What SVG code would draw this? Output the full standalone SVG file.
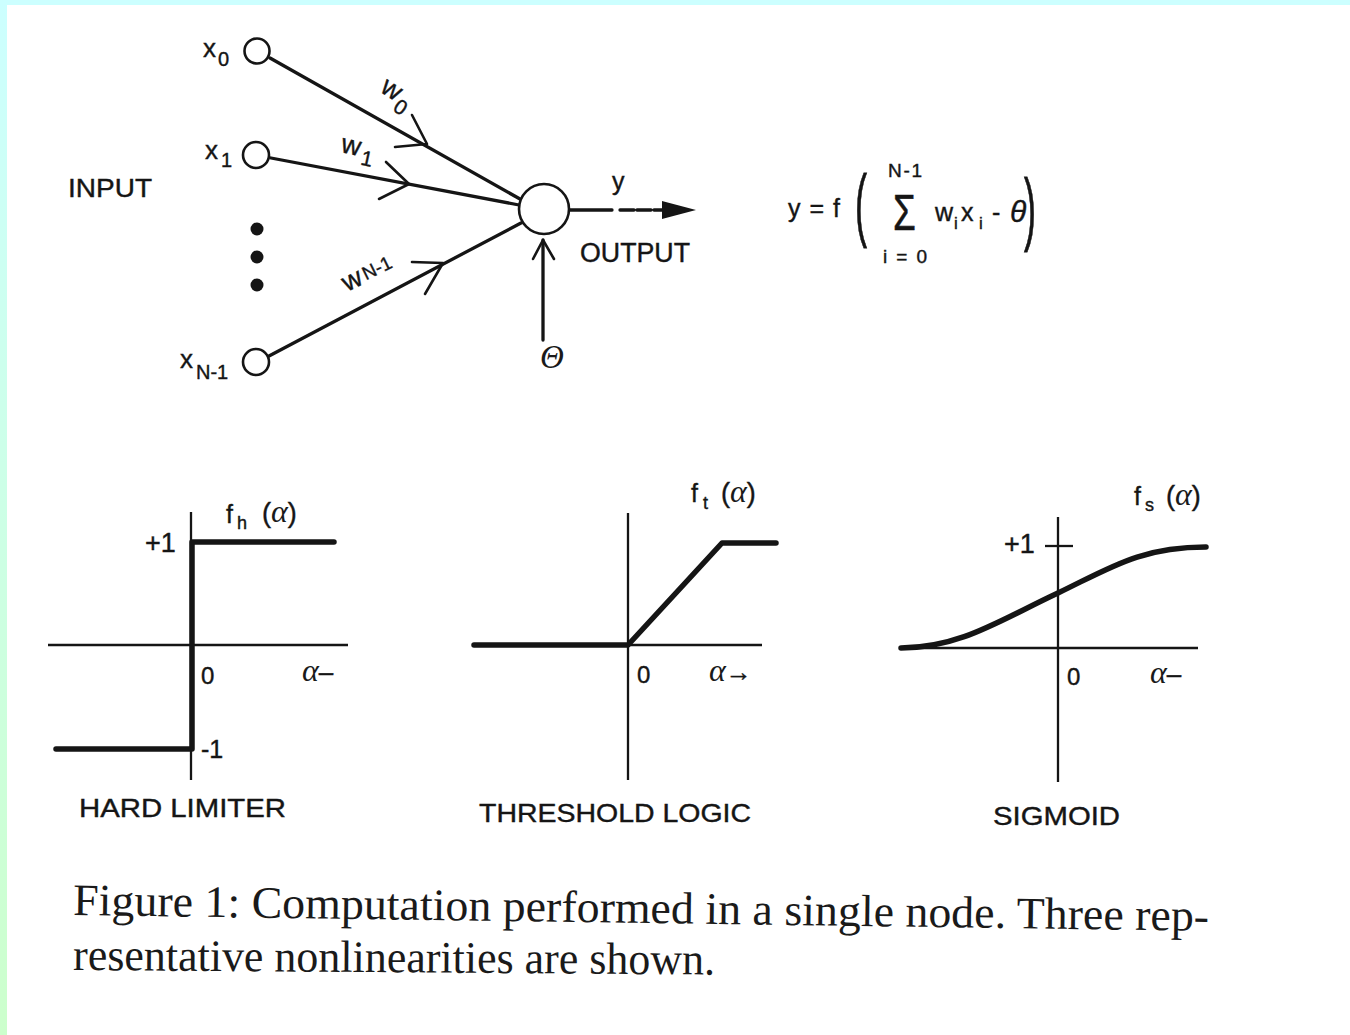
<svg xmlns="http://www.w3.org/2000/svg" width="1350" height="1035" viewBox="0 0 1350 1035">
<defs>
<linearGradient id="lb" x1="0" y1="0" x2="0" y2="1">
<stop offset="0" stop-color="#ccffff"/>
<stop offset="1" stop-color="#ccffcc"/>
</linearGradient>
<style>
.s{font-family:"Liberation Sans",Arial,sans-serif;fill:#151515;stroke:#151515;stroke-width:0.4}
.it{font-style:italic}
.serif{font-family:"Liberation Serif","Times New Roman",serif;fill:#1a1a1a}
.ln{stroke:#151515;stroke-width:3.3;fill:none;stroke-linecap:round;stroke-linejoin:round}
.ax{stroke:#151515;stroke-width:2.3;fill:none}
.th{stroke:#151515;stroke-width:5.5;fill:none;stroke-linecap:round;stroke-linejoin:round}
.nd{fill:#fff;stroke:#151515;stroke-width:2.6}
.ch{stroke:#151515;stroke-width:2.6;fill:none;stroke-linecap:round;stroke-linejoin:round}
</style>
</defs>
<rect x="0" y="0" width="1350" height="1035" fill="#fff"/>
<rect x="0" y="0" width="1350" height="5" fill="#ccffff"/>
<rect x="0" y="0" width="7" height="1035" fill="url(#lb)"/>

<g id="connectors">
<line class="ln" x1="270" y1="58" x2="520" y2="199"/>
<line class="ln" x1="271" y1="158" x2="519" y2="205"/>
<line class="ln" x1="269" y1="356" x2="521" y2="223"/>
<polyline class="ch" points="412,115 427,144 395,147"/>
<polyline class="ch" points="386,162 409,184 379,199"/>
<polyline class="ch" points="412,262 443,263 425,294"/>
<line class="ln" x1="569" y1="210" x2="612" y2="210"/>
<line class="ln" x1="620" y1="210" x2="668" y2="210" stroke-dasharray="14,3"/>
<polygon points="662,201 696,210 662,219" fill="#151515"/>
<line class="ln" x1="543" y1="340" x2="543" y2="240"/>
<polyline class="ch" points="533,259 543,240 554,259"/>
</g>

<g id="input-x0">
<circle class="nd" cx="257" cy="51" r="12.5"/>
<text class="s" x="203" y="57" font-size="26">x</text>
<text class="s" x="218" y="66" font-size="20">0</text>
</g>
<g id="input-x1">
<circle class="nd" cx="256" cy="155" r="13"/>
<text class="s" x="205" y="159" font-size="26">x</text>
<text class="s" x="221" y="167" font-size="20">1</text>
</g>
<g id="input-dots">
<circle cx="257" cy="229" r="6.5" fill="#151515"/>
<circle cx="257" cy="257" r="6.5" fill="#151515"/>
<circle cx="257" cy="285" r="6.5" fill="#151515"/>
</g>
<g id="input-xN-1">
<circle class="nd" cx="256" cy="362" r="13"/>
<text class="s" x="180" y="368" font-size="26">x</text>
<text class="s" x="196" y="379" font-size="20">N-1</text>
</g>
<g id="input-label">
<text class="s" x="68" y="197" font-size="26" textLength="84" lengthAdjust="spacingAndGlyphs">INPUT</text>
</g>
<g id="weights">
<g transform="translate(379,91) rotate(33)">
<text class="s" x="0" y="0" font-size="27">w</text>
<text class="s" x="21" y="9" font-size="21">0</text>
</g>
<g transform="translate(340,152) rotate(12)">
<text class="s" x="0" y="0" font-size="27">w</text>
<text class="s" x="22" y="8" font-size="21">1</text>
</g>
<g transform="translate(347,292) rotate(-26)">
<text class="s" x="0" y="0" font-size="27">w</text>
<text class="s" x="22" y="-2" font-size="19">N-1</text>
</g>
</g>
<g id="sum-node">
<circle class="nd" cx="544" cy="209" r="25"/>
</g>
<g id="output-label">
<text class="s" x="612" y="190" font-size="25">y</text>
<text class="s" x="580" y="262" font-size="27" textLength="110" lengthAdjust="spacingAndGlyphs">OUTPUT</text>
</g>
<g id="theta">
<text class="serif it" x="540" y="368" font-size="33">Θ</text>
</g>
<g id="formula">
<text class="s" x="788" y="217" font-size="25" textLength="52" lengthAdjust="spacing">y = f</text>
<text class="s" transform="translate(855,0) scale(1,2.2)" x="0" y="105" font-size="36" stroke-width="0">(</text>
<text class="s" x="888" y="177" font-size="19" textLength="34" lengthAdjust="spacing">N-1</text>
<text class="s" transform="translate(893,230) scale(1.15,1.55)" x="0" y="0" font-size="32" stroke-width="0">Σ</text>
<text class="s" x="883" y="263" font-size="19" textLength="44" lengthAdjust="spacing">i = 0</text>
<text class="s" x="935" y="221" font-size="25">w</text>
<text class="s" x="954" y="229" font-size="17">i</text>
<text class="s" x="961" y="221" font-size="25">x</text>
<text class="s" x="979" y="229" font-size="17">i</text>
<text class="s" x="992" y="221" font-size="25">-</text>
<text class="s it" x="1010" y="222" font-size="30" stroke-width="0">θ</text>
<text class="s" transform="translate(1024,0) scale(1,2.2)" x="0" y="107" font-size="36" stroke-width="0">)</text>
</g>

<g id="hard-limiter">
<line class="ax" x1="48" y1="645" x2="348" y2="645"/>
<line class="ax" x1="191" y1="512" x2="191" y2="780"/>
<polyline class="th" points="334,542 192,542 192,749 56,749"/>
<text class="s" x="145" y="552" font-size="27">+1</text>
<text class="s" x="226" y="523" font-size="25">f</text>
<text class="s" x="237" y="529" font-size="18">h</text>
<text class="s" x="262" y="522" font-size="27">(<tspan class="serif it" stroke-width="0" font-size="32">α</tspan>)</text>
<text class="s" x="201" y="684" font-size="24">0</text>
<text class="s" x="302" y="681" font-size="26"><tspan class="serif it" stroke-width="0" font-size="32">α</tspan>–</text>
<text class="s" x="201" y="758" font-size="25">-1</text>
<text class="s" x="79" y="817" font-size="26" textLength="207" lengthAdjust="spacingAndGlyphs">HARD LIMITER</text>
</g>

<g id="threshold-logic">
<line class="ax" x1="472" y1="645" x2="762" y2="645"/>
<line class="ax" x1="628" y1="513" x2="628" y2="780"/>
<polyline class="th" points="474,645 628,645 722,543 776,543"/>
<text class="s" x="691" y="502" font-size="25">f</text>
<text class="s" x="703" y="509" font-size="18">t</text>
<text class="s" x="721" y="502" font-size="27">(<tspan class="serif it" stroke-width="0" font-size="32">α</tspan>)</text>
<text class="s" x="637" y="683" font-size="24">0</text>
<text class="s" x="709" y="681" font-size="26"><tspan class="serif it" stroke-width="0" font-size="32">α</tspan>→</text>
<text class="s" x="479" y="822" font-size="26" textLength="272" lengthAdjust="spacingAndGlyphs">THRESHOLD LOGIC</text>
</g>

<g id="sigmoid">
<line class="ax" x1="900" y1="648" x2="1198" y2="648"/>
<line class="ax" x1="1058" y1="517" x2="1058" y2="782"/>
<line class="ax" x1="1045" y1="546" x2="1073" y2="546"/>
<path class="th" d="M901,648 C960,648 1000,620 1058,593 C1110,568 1140,547 1206,547"/>
<text class="s" x="1134" y="505" font-size="25">f</text>
<text class="s" x="1145" y="511" font-size="18">s</text>
<text class="s" x="1166" y="505" font-size="27">(<tspan class="serif it" stroke-width="0" font-size="32">α</tspan>)</text>
<text class="s" x="1004" y="553" font-size="27">+1</text>
<text class="s" x="1067" y="685" font-size="24">0</text>
<text class="s" x="1150" y="683" font-size="26"><tspan class="serif it" stroke-width="0" font-size="32">α</tspan>–</text>
<text class="s" x="993" y="825" font-size="26" textLength="127" lengthAdjust="spacingAndGlyphs">SIGMOID</text>
</g>

<g id="caption">
<text class="serif" transform="rotate(0.8,73,915)" x="73" y="915" font-size="45" textLength="1136" lengthAdjust="spacingAndGlyphs">Figure 1:  Computation performed in a single node.  Three rep-</text>
<text class="serif" transform="rotate(0.4,73,970)" x="73" y="970" font-size="45" textLength="642" lengthAdjust="spacingAndGlyphs">resentative nonlinearities are shown.</text>
</g>
</svg>
